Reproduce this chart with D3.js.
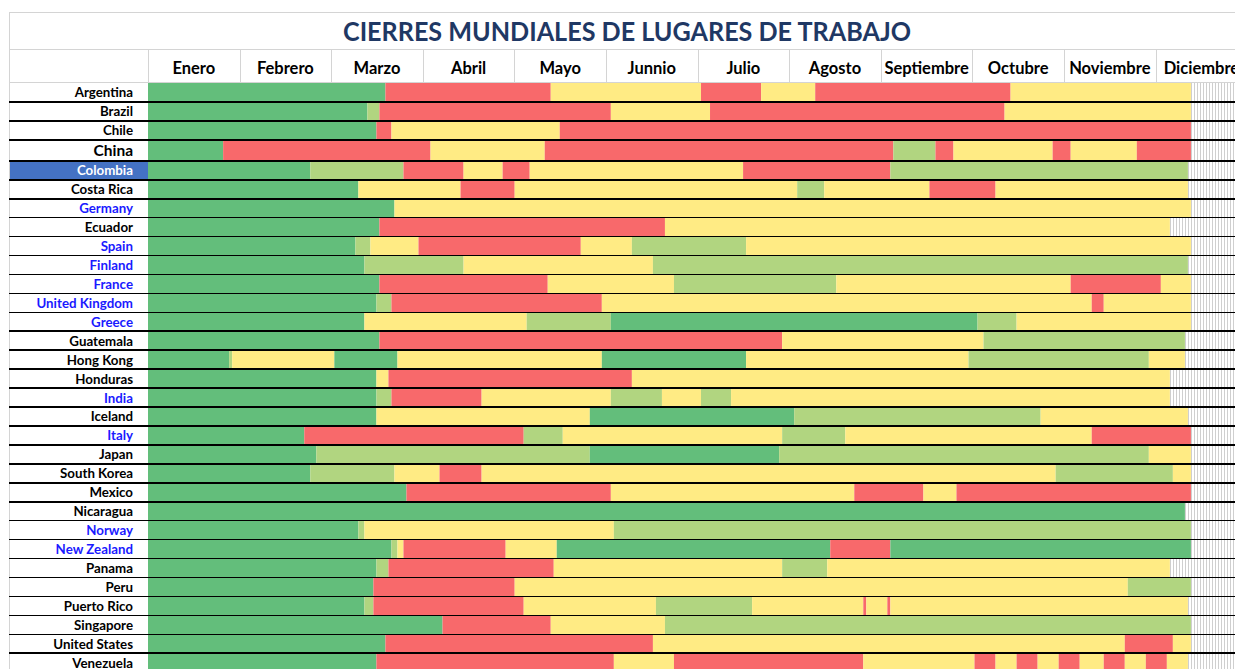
<!DOCTYPE html>
<html><head><meta charset="utf-8">
<script src="https://cdn.jsdelivr.net/npm/d3@7"></script>
<style>body{margin:0;background:#fff;} svg{display:block;}</style>
</head><body><svg id="c" width="1235" height="669"></svg>
<script>
const title = "CIERRES MUNDIALES DE LUGARES DE TRABAJO";
const months = ["Enero","Febrero","Marzo","Abril","Mayo","Junnio","Julio","Agosto","Septiembre","Octubre","Noviembre","Diciembre"];
const countries = ["Argentina","Brazil","Chile","China","Colombia","Costa Rica","Germany","Ecuador","Spain","Finland","France","United Kingdom","Greece","Guatemala","Hong Kong","Honduras","India","Iceland","Italy","Japan","South Korea","Mexico","Nicaragua","Norway","New Zealand","Panama","Peru","Puerto Rico","Singapore","United States","Venezuela"];
const blueLabels = ["Germany","Spain","Finland","France","United Kingdom","Greece","India","Italy","Norway","New Zealand"];
const highlightLabel = "Colombia";
// level codes: 0 = sin medidas, 1 = leve, 2 = parcial, 3 = cierre
const levelColors = ["#63BE7B","#B1D580","#FFEB84","#F8696B"];
// change points per country: [day of year 2020, level]
const changes = [
  [[0,0],[79,3],[134,2],[184,3],[204,2],[222,3],[287,2]],
  [[0,0],[73,1],[77,3],[154,2],[187,3],[285,2]],
  [[0,0],[76,3],[81,2],[137,3]],
  [[0,0],[25,3],[94,2],[132,3],[248,1],[262,3],[268,2],[301,3],[307,2],[329,3]],
  [[0,0],[54,1],[85,3],[105,2],[118,3],[127,2],[198,3],[247,1]],
  [[0,0],[70,2],[104,3],[122,2],[216,1],[225,2],[260,3],[282,2]],
  [[0,0],[82,2]],
  [[0,0],[77,3],[172,2]],
  [[0,0],[69,1],[74,2],[90,3],[144,2],[161,1],[199,2]],
  [[0,0],[72,1],[105,2],[168,1]],
  [[0,0],[77,3],[133,2],[175,1],[229,2],[307,3],[337,2]],
  [[0,0],[76,1],[81,3],[151,2],[314,3],[318,2]],
  [[0,0],[72,2],[126,1],[154,0],[276,1],[289,2]],
  [[0,0],[77,3],[211,2],[278,1]],
  [[0,0],[27,1],[28,2],[62,0],[83,2],[151,0],[199,2],[273,1],[333,2]],
  [[0,0],[76,2],[80,3],[161,2]],
  [[0,0],[76,1],[81,3],[111,2],[154,1],[171,2],[184,1],[194,2]],
  [[0,0],[76,2],[147,0],[215,1],[297,2]],
  [[0,0],[52,3],[125,1],[138,2],[211,1],[232,2],[314,3]],
  [[0,0],[56,1],[147,0],[210,1],[333,2]],
  [[0,0],[54,1],[82,2],[97,3],[111,2],[302,1],[341,2]],
  [[0,0],[86,3],[154,2],[235,3],[258,2],[269,3]],
  [[0,0]],
  [[0,0],[70,1],[72,2],[155,1]],
  [[0,0],[81,1],[83,2],[85,3],[119,2],[136,0],[227,3],[247,0]],
  [[0,0],[76,1],[80,3],[135,2],[211,1],[226,2]],
  [[0,0],[75,3],[122,2],[326,1]],
  [[0,0],[72,1],[75,3],[125,2],[169,1],[201,2],[238,3],[239,2],[246,3],[247,2]],
  [[0,0],[98,3],[134,2],[172,1]],
  [[0,0],[79,3],[168,2],[325,3],[341,2]],
  [[0,0],[76,3],[155,2],[175,3],[238,2],[275,3],[282,2],[289,3],[296,2],[303,3],[310,2],[318,3],[325,2],[332,3],[339,2]]
];
const lastDay = [347,347,347,347,346,346,347,340,347,346,347,347,347,345,345,340,340,346,347,347,347,347,345,347,347,340,347,346,347,347,346];

const W = 1235, H = 669;
const svg = d3.select("#c");
const left = 148, dayPx = 3.0055, gridGray = "#d4d4d4";
const x = d3.scaleLinear().domain([0,366]).range([left, left + 366*dayPx]);
const xm = d3.scaleBand().domain(months).range([left, left + 12*91.6]);

// row positions
const rowH = countries.map(c => c === "China" ? 21 : 18.94);
const tops = [83, ...d3.cumsum(rowH).map(v => 83 + v)];
const yTop = d3.scaleOrdinal().domain(countries).range(tops.slice(0, countries.length));
const yH = d3.scaleOrdinal().domain(countries).range(rowH);

// frame
const g0 = svg.append("g").attr("shape-rendering","crispEdges");
g0.append("line").attr("x1",9).attr("x2",W).attr("y1",12.5).attr("y2",12.5).attr("stroke",gridGray);
g0.append("line").attr("x1",9.5).attr("x2",9.5).attr("y1",12).attr("y2",H).attr("stroke",gridGray);
g0.append("line").attr("x1",9).attr("x2",W).attr("y1",49.5).attr("y2",49.5).attr("stroke",gridGray);
g0.append("line").attr("x1",9).attr("x2",W).attr("y1",82.5).attr("y2",82.5).attr("stroke",gridGray);
g0.selectAll("line.sep").data(months).join("line").attr("class","sep")
  .attr("x1", d => Math.round(xm(d)) + 0.5).attr("x2", d => Math.round(xm(d)) + 0.5)
  .attr("y1",49).attr("y2",83).attr("stroke",gridGray);

// title
svg.append("text").attr("x",627).attr("y",41).attr("text-anchor","middle")
  .attr("font-family","Lato, 'Open Sans', sans-serif").attr("font-weight",700).attr("font-size",26)
  .attr("fill","#1F3864").attr("textLength",568).attr("lengthAdjust","spacingAndGlyphs").text(title);

// month headers
svg.selectAll("text.m").data(months).join("text").attr("class","m")
  .attr("x", d => xm(d) + xm.bandwidth()/2).attr("y",74).attr("text-anchor","middle")
  .attr("font-family","Lato, sans-serif").attr("font-weight",700).attr("font-size",16.5)
  .attr("fill","#000").text(d => d);

// rows
const rows = svg.append("g").selectAll("g").data(countries).join("g");

// hatch (empty day cells)
rows.each(function(c, i) {
  const days = d3.range(lastDay[i], 370);
  d3.select(this).append("g").attr("shape-rendering","crispEdges").selectAll("line").data(days).join("line")
    .attr("x1", d => Math.round(x(d)) + 0.5).attr("x2", d => Math.round(x(d)) + 0.5)
    .attr("y1", yTop(c)).attr("y2", yTop(c) + yH(c)).attr("stroke","#cfcfcf").attr("stroke-width",1);
});

// segments
rows.each(function(c, i) {
  const ch = changes[i];
  const segs = ch.map((p, k) => ({start: p[0], end: k + 1 < ch.length ? ch[k+1][0] : lastDay[i], level: p[1]}));
  d3.select(this).selectAll("rect").data(segs).join("rect")
    .attr("x", d => x(d.start)).attr("width", d => x(d.end) - x(d.start))
    .attr("y", yTop(c)).attr("height", yH(c))
    .attr("fill", d => levelColors[d.level]);
});

// highlight label cell
svg.append("rect").attr("x",10).attr("width",left-10)
  .attr("y", yTop(highlightLabel)).attr("height", yH(highlightLabel)).attr("fill","#4472C4");

// row bottom lines
svg.append("g").attr("shape-rendering","crispEdges").selectAll("line").data(countries).join("line")
  .attr("x1",9).attr("x2",W)
  .attr("y1", c => yTop(c) + yH(c)).attr("y2", c => yTop(c) + yH(c))
  .attr("stroke","#000").attr("stroke-width",1.6);

// row labels
svg.selectAll("text.r").data(countries).join("text").attr("class","r")
  .attr("x",133).attr("y", c => yTop(c) + yH(c) - 4.5).attr("text-anchor","end")
  .attr("font-family","Lato, sans-serif").attr("font-weight",700)
  .attr("font-size", c => c === "China" ? 15.5 : 13.3)
  .attr("fill", c => c === highlightLabel ? "#fff" : (blueLabels.includes(c) ? "#1a1aff" : "#000"))
  .text(c => c);
</script></body></html>
